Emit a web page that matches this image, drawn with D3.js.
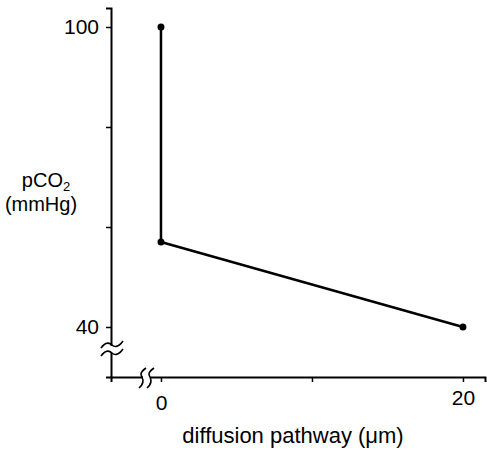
<!DOCTYPE html>
<html><head><meta charset="utf-8">
<script src="https://cdn.jsdelivr.net/npm/d3@7"></script>
<style>body{margin:0;background:#fff}text{font-family:"Liberation Sans",Arial,sans-serif;fill:#000}</style>
</head><body><svg id="c" width="487" height="450"></svg>
<script>
const xValues = [0, 0, 20];
const yValues = [100, 57, 40];
const xTicks = [0, 10, 20];
const xTickLabels = ["0", "", "20"];
const yTicks = [40, 60, 80, 100];
const yTickLabels = ["40", "", "", "100"];

const svg = d3.select("#c");
const x = d3.scaleLinear().domain([-3.31, 21.46]).range([111, 485]);
const y = d3.scaleLinear().domain([30, 103.8]).range([377, 8]);

const gx = svg.append("g").attr("transform", "translate(0,377)")
  .call(d3.axisBottom(x).tickValues(xTicks).tickFormat((d,i)=>xTickLabels[i]).tickSizeOuter(0).tickSize(5).tickPadding(8));
const gy = svg.append("g").attr("transform", "translate(111,0)")
  .call(d3.axisLeft(y).tickValues(yTicks).tickFormat((d,i)=>yTickLabels[i]).tickSizeOuter(0).tickSize(5).tickPadding(7));
[gx, gy].forEach(g => {
  g.select(".domain").attr("stroke", "#000").attr("stroke-width", 2);
  g.selectAll(".tick line").attr("stroke", "#000").attr("stroke-width", 1.5);
  g.selectAll(".tick text").attr("font-size", 21).attr("font-family", "Liberation Sans, Arial, sans-serif").attr("fill", "#000");
});
gx.selectAll(".tick text").attr("dy", d => d === 0 ? "0.95em" : "0.71em");

// axis breaks
const brk = svg.append("g");
brk.append("rect").attr("x", 105).attr("y", 346).attr("width", 12).attr("height", 7).attr("fill", "#fff");
[345, 353].forEach(cy => {
  brk.append("path").attr("d", `M101,${cy+3} C106,${cy-4} 110,${cy-2} 112,${cy} S118,${cy+3} 123,${cy-4}`)
    .attr("fill", "none").attr("stroke", "#000").attr("stroke-width", 1.6);
});
brk.append("rect").attr("x", 143).attr("y", 373).attr("width", 7).attr("height", 8).attr("fill", "#fff");
[142, 150].forEach(cx => {
  brk.append("path").attr("d", `M${cx+4},368 C${cx-3},373 ${cx-1},375 ${cx},377 S${cx+3},383 ${cx-3},388`)
    .attr("fill", "none").attr("stroke", "#000").attr("stroke-width", 1.6);
});

const pts = xValues.map((v,i)=>[v, yValues[i]]);
svg.append("path").datum(pts)
  .attr("d", d3.line().x(d=>x(d[0])).y(d=>y(d[1])))
  .attr("fill", "none").attr("stroke", "#000").attr("stroke-width", 2.5).attr("stroke-linejoin", "round");
svg.selectAll("circle.pt").data(pts).join("circle").attr("class","pt")
  .attr("cx", d=>x(d[0])).attr("cy", d=>y(d[1])).attr("r", 3.5).attr("fill", "#000");

const yl = svg.append("text").attr("x", 46).attr("y", 187).attr("text-anchor", "middle").attr("font-size", 20);
yl.append("tspan").text("pCO");
yl.append("tspan").attr("font-size", 13).attr("dy", 4).text("2");
svg.append("text").attr("x", 41).attr("y", 211).attr("text-anchor", "middle").attr("font-size", 20).text("(mmHg)");
svg.append("text").attr("x", 293).attr("y", 443).attr("text-anchor", "middle").attr("font-size", 22).text("diffusion pathway (μm)");
</script></body></html>
